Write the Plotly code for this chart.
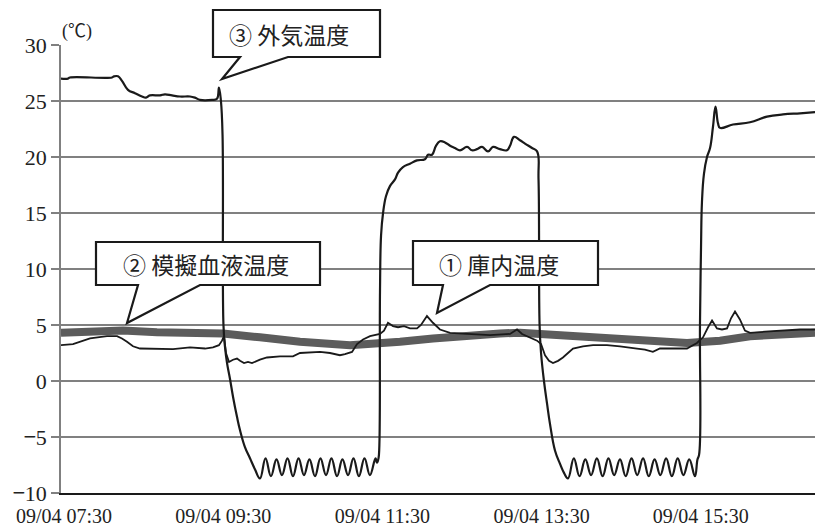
import pandas as pd
import plotly.graph_objects as go

# ---------------- data (minutes after 09/04 07:30, temperature in ℃) ----------------
BASE = "2020-09-04 07:30"

outside_min = [-2.3, 3.0, 4.5, 36.2, 37.7, 40.7, 43.7, 48.2, 53.5, 58.8, 61.8, 64.8, 72.4, 76.1,
               81.4, 87.4, 95.0, 98.7, 102.5, 111.6, 115.3, 116.8, 118.3, 119.5, 120.2, 121.4,
               122.9, 125.1, 127.4, 130.4, 132.7, 136.4, 140.2, 144.0, 147.7,
               151.9, 156.0, 160.2, 164.3, 168.5, 172.6, 176.8, 180.9, 185.0, 189.2, 193.3,
               197.5, 201.6, 205.8, 209.9, 214.1, 218.2, 222.3, 226.5, 230.6, 234.8,
               235.9, 236.7, 237.4, 238.2, 239.0, 240.5, 242.7, 245.7, 249.5, 251.8, 255.5,
               260.8, 266.1, 272.1, 274.4, 277.4, 280.4, 283.4, 287.2, 291.0, 294.7, 298.5,
               303.8, 307.5, 311.3, 315.1, 319.6, 323.4, 328.6, 333.9, 336.2, 339.2, 343.7,
               347.5, 352.8, 356.6, 357.7, 358.5, 359.6, 361.8, 364.1, 366.3, 370.1, 373.9,
               376.9, 379.9,
               384.3, 388.6, 393.0, 397.3, 401.7, 406.0, 410.4, 414.7, 419.1, 423.4, 427.8,
               432.1, 436.5, 440.8, 445.2, 449.5, 453.9, 458.2, 462.6, 466.9, 471.3, 475.6,
               477.5, 478.7, 479.4, 480.2, 480.9, 482.4, 484.7, 487.0, 489.2, 491.1, 493.0,
               494.5, 504.3, 517.1, 529.9, 542.0, 554.8, 566.1]
outside_val = [27.0, 27.0, 27.1, 27.1, 27.2, 27.2, 26.8, 26.0, 25.7, 25.4, 25.3, 25.5, 25.5, 25.6,
               25.5, 25.4, 25.4, 25.3, 25.1, 25.1, 25.2, 26.2, 25.0, 22.0, 5.0, 3.0,
               1.6, 0.2, -1.4, -3.2, -4.4, -5.9, -6.9, -7.9, -8.7,
               -6.9, -8.5, -7.0, -8.4, -6.9, -8.5, -6.9, -8.4, -7.0, -8.5, -6.9,
               -8.4, -6.9, -8.5, -7.0, -8.4, -6.9, -8.5, -6.9, -8.4, -6.9,
               -7.3, -7.1, -6.6, 8.0, 13.0, 15.0, 16.5, 17.4, 18.0, 18.6, 19.1,
               19.4, 19.7, 19.8, 20.2, 20.2, 21.0, 21.4, 21.3, 21.0, 20.8, 20.6,
               20.9, 20.6, 20.7, 20.9, 20.5, 20.9, 20.7, 20.6, 21.0, 21.8, 21.5,
               21.2, 20.8, 20.5, 18.0, 5.0, 2.5, 0.0, -2.0, -3.8, -6.2, -7.4,
               -8.2, -8.7,
               -6.9, -8.5, -7.0, -8.4, -6.9, -8.5, -6.9, -8.4, -7.0, -8.5, -6.9,
               -8.4, -6.9, -8.5, -7.0, -8.4, -6.9, -8.5, -6.9, -8.4, -7.0, -8.5,
               -7.0, -6.6, 5.0, 12.0, 16.0, 18.5, 20.0, 20.8, 22.7, 24.5, 23.0,
               22.6, 22.9, 23.1, 23.6, 23.8, 23.9, 24.0]

internal_min = [-2.3, 6.8, 19.6, 32.4, 40.0, 43.7, 47.5, 52.0, 57.3, 82.2, 95.0, 106.3, 112.3,
                116.8, 119.1, 120.6, 122.1, 124.4, 127.4, 130.4, 132.7, 135.7, 138.7, 141.7,
                147.7, 153.0, 162.8, 172.6, 177.9, 193.0, 200.5, 208.0, 211.8, 217.1, 220.9,
                225.4, 230.7, 238.2, 241.2, 244.2, 248.0, 251.8, 256.3, 260.8, 266.1, 269.1,
                273.6, 278.1, 283.4, 291.0, 303.8, 321.1, 336.2, 341.5, 345.3, 351.3, 356.6,
                359.6, 362.6, 365.6, 368.6, 372.4, 376.1, 379.9, 383.7, 391.2, 398.8, 409.3,
                419.1, 431.9, 437.9, 443.9, 449.2, 460.5, 469.6, 477.1, 481.7, 485.5, 488.5,
                492.2, 496.0, 499.8, 502.8, 505.8, 509.5, 513.3, 517.1, 528.4, 542.0, 554.8,
                566.1]
internal_val = [3.2, 3.3, 3.8, 4.0, 4.0, 3.8, 3.5, 3.1, 2.9, 2.85, 3.0, 2.9, 3.0,
                3.2, 3.6, 4.0, 2.5, 1.7, 1.9, 2.0, 1.8, 1.6, 1.7, 1.6,
                1.9, 2.1, 2.2, 2.2, 2.5, 2.6, 2.5, 2.3, 2.4, 2.6, 3.3,
                3.7, 4.0, 4.2, 4.5, 5.2, 4.9, 4.8, 4.9, 4.7, 4.7, 5.0,
                5.8, 5.2, 4.6, 4.3, 4.2, 4.1, 4.2, 4.6, 4.2, 3.9, 3.6,
                3.3, 2.3, 1.8, 1.6, 1.8, 2.1, 2.5, 2.9, 3.1, 3.2, 3.2,
                3.1, 2.9, 2.8, 2.6, 2.9, 2.9, 2.9, 3.4, 3.9, 4.8, 5.4,
                4.7, 4.6, 4.7, 5.6, 6.2, 5.5, 4.5, 4.3, 4.4, 4.5, 4.6,
                4.6]

blood_min = [-2.3, 19.6, 44.5, 70.1, 95.0, 119.9, 147.7, 177.9, 215.6, 238.2, 253.3, 278.1,
             303.8, 328.6, 343.7, 358.8, 373.9, 394.2, 419.1, 443.9, 469.6, 483.2, 494.5,
             517.1, 542.0, 566.1]
blood_val = [4.3, 4.4, 4.5, 4.35, 4.3, 4.25, 3.9, 3.5, 3.2, 3.3, 3.5, 3.8,
             4.1, 4.25, 4.3, 4.2, 4.1, 3.9, 3.7, 3.5, 3.4, 3.5, 3.6,
             4.0, 4.15, 4.3]

x_tick_times = ["07:30", "09:30", "11:30", "13:30", "15:30"]
y_tick_vals = [-10, -5, 0, 5, 10, 15, 20, 25, 30]
MINUS = "<span style='font-family:Noto Sans CJK JP'>−</span>"
y_tick_text = [MINUS + "10", MINUS + "5", "0", "5", "10", "15", "20", "25", "30"]
x_range_min = [-2.26, 566.1]

callout_labels = ["③ 外気温度", "② 模擬血液温度", "① 庫内温度"]

# ---------------- helpers ----------------
base = pd.Timestamp(BASE)


def to_time(mins):
    return [base + pd.Timedelta(minutes=m) for m in mins]


W, H = 815, 526
ML, MR, MT, MB = 61, 0, 45, 33
PW, PH = W - ML - MR, H - MT - MB


def px(x, y):
    return (x - ML) / PW, (H - MB - y) / PH


def path_from(points):
    parts = []
    for i, (x, y) in enumerate(points):
        u, v = px(x, y)
        parts.append(("M" if i == 0 else "L") + f"{u:.5f},{v:.5f}")
    return " ".join(parts) + " Z"


fig = go.Figure()
fig.add_trace(go.Scatter(x=to_time(blood_min), y=blood_val, mode="lines",
                         line=dict(color="#5c5c5c", width=8), name="② 模擬血液温度",
                         showlegend=False))
fig.add_trace(go.Scatter(x=to_time(internal_min), y=internal_val, mode="lines",
                         line=dict(color="#1a1a1a", width=1.8), name="① 庫内温度",
                         showlegend=False))
fig.add_trace(go.Scatter(x=to_time(outside_min), y=outside_val, mode="lines",
                         line=dict(color="#1a1a1a", width=2.2, shape="spline", smoothing=1.2),
                         name="③ 外気温度", showlegend=False))

# callout shapes (pixel outlines)
callouts = [
    ([(213, 10), (380, 10), (380, 57), (288, 57), (222, 79), (240, 57), (213, 57)], (289, 34)),
    ([(96, 242), (320, 242), (320, 285), (200, 285), (127, 323), (138, 285), (96, 285)], (206, 264)),
    ([(413, 241), (598, 241), (598, 285), (490, 285), (437, 313), (443, 285), (413, 285)], (499, 264)),
]
for (pts, (tx, ty)), label in zip(callouts, callout_labels):
    fig.add_shape(type="path", path=path_from(pts), xref="paper", yref="paper",
                  fillcolor="white", line=dict(color="#1a1a1a", width=2.2), layer="above")
    u, v = px(tx, ty)
    fig.add_annotation(x=u, y=v, xref="paper", yref="paper", text=label, showarrow=False,
                       xanchor="center", yanchor="middle",
                       font=dict(family="Noto Sans CJK JP", size=23, color="#222222"))

u, v = px(77, 31)
fig.add_annotation(x=u, y=v, xref="paper", yref="paper", text="(℃)", showarrow=False,
                   xanchor="center", yanchor="middle",
                   font=dict(family="Liberation Serif, Noto Sans CJK JP", size=18, color="#222222"))

fig.update_layout(
    width=W, height=H,
    margin=dict(l=ML, r=MR, t=MT, b=MB, pad=0, autoexpand=False),
    paper_bgcolor="white", plot_bgcolor="white",
    showlegend=False,
)
fig.update_xaxes(
    type="date", automargin=False,
    range=to_time(x_range_min),
    tickvals=[pd.Timestamp(f"2020-09-04 {t}") for t in x_tick_times],
    tickformat="%m/%d %H:%M",
    showgrid=False, zeroline=False,
    showline=True, linecolor="#1a1a1a", linewidth=2,
    ticks="", ticklabelstandoff=4,
    tickfont=dict(family="Liberation Serif", size=20, color="#222222"),
)
fig.update_yaxes(
    automargin=False,
    range=[-10, 30],
    tickvals=y_tick_vals, ticktext=y_tick_text,
    showgrid=True, gridcolor="#808080", gridwidth=1.5,
    zeroline=False,
    showline=True, linecolor="#808080", linewidth=1.5,
    ticks="outside", ticklen=8, tickcolor="#808080", tickwidth=1.5,
    tickfont=dict(family="Liberation Serif", size=22, color="#222222"),
)

fig.write_html("out.html", config={"displayModeBar": False},
               post_script="document.body.style.margin='0';document.body.style.padding='0';")
